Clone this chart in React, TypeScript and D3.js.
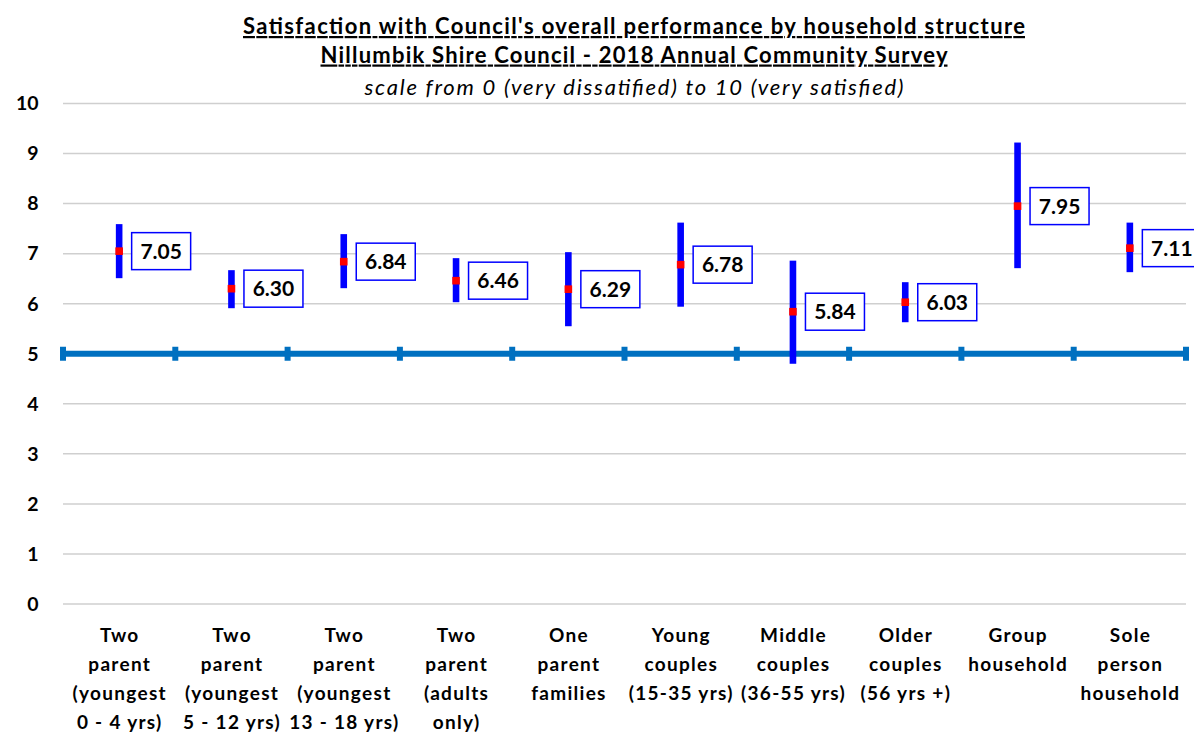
import React from "react";
import * as d3 from "d3";

const categories: string[][] = [
  ["Two", "parent", "(youngest", "0 - 4 yrs)"],
  ["Two", "parent", "(youngest", "5 - 12 yrs)"],
  ["Two", "parent", "(youngest", "13 - 18 yrs)"],
  ["Two", "parent", "(adults", "only)"],
  ["One", "parent", "families"],
  ["Young", "couples", "(15-35 yrs)"],
  ["Middle", "couples", "(36-55 yrs)"],
  ["Older", "couples", "(56 yrs +)"],
  ["Group", "household"],
  ["Sole", "person", "household"],
];
const means = [7.05, 6.3, 6.84, 6.46, 6.29, 6.78, 5.84, 6.03, 7.95, 7.11];
const lower = [6.51, 5.91, 6.31, 6.03, 5.55, 5.94, 4.8, 5.63, 6.71, 6.63];
const upper = [7.59, 6.67, 7.39, 6.91, 7.03, 7.62, 6.86, 6.43, 9.22, 7.62];
const yTicks = [0, 1, 2, 3, 4, 5, 6, 7, 8, 9, 10];
const referenceValue = 5;
const titleLines = [
  "Satisfaction  with Council's overall performance by household structure",
  "Nillumbik Shire Council - 2018 Annual  Community Survey",
];
const subtitle = "scale from 0 (very dissatified) to 10 (very satisfied)";

const W = 1194;
const H = 733;
const FONT = "Lato, 'Open Sans', sans-serif";

export default function App() {
  const x = d3
    .scaleBand<number>()
    .domain(d3.range(categories.length))
    .range([63, 1186])
    .padding(0);
  const y = d3.scaleLinear().domain([0, 10]).range([604, 103.5]);
  const bw = x.bandwidth();
  const cx = (i: number) => (x(i) as number) + bw / 2;
  const boundaries = d3.range(categories.length + 1).map((i) => 63 + i * bw);

  return (
    <div style={{ position: "absolute", left: 0, top: 0 }}>
      <svg width={W} height={H} style={{ display: "block", background: "#fff" }}>
        {/* titles */}
        <text x={634} y={34} textAnchor="middle" fontFamily={FONT} fontWeight="bold" fontSize={22} textDecoration="underline" fill="#000" textLength={782} lengthAdjust="spacing">
          {titleLines[0]}
        </text>
        <text x={634} y={62.5} textAnchor="middle" fontFamily={FONT} fontWeight="bold" fontSize={22} textDecoration="underline" fill="#000" textLength={627} lengthAdjust="spacing">
          {titleLines[1]}
        </text>
        <text x={634} y={95} textAnchor="middle" fontFamily={FONT} fontStyle="italic" fontSize={22} fill="#000" textLength={539} lengthAdjust="spacing">
          {subtitle}
        </text>

        {/* gridlines */}
        {yTicks.map((t) => (
          <line key={"g" + t} x1={63} x2={1186} y1={y(t)} y2={y(t)} stroke="#cfcfcf" strokeWidth={1.5} />
        ))}
        {/* y tick labels */}
        {yTicks.map((t) => (
          <text key={"yt" + t} x={38.5} y={y(t)} dy="0.35em" textAnchor="end" fontFamily={FONT} fontWeight="bold" fontSize={19.5} fill="#000">
            {t}
          </text>
        ))}

        {/* reference line */}
        <line x1={63} x2={1186} y1={y(referenceValue)} y2={y(referenceValue)} stroke="#0070C0" strokeWidth={6} />
        {boundaries.map((bx, i) => (
          <line key={"rt" + i} x1={bx} x2={bx} y1={y(referenceValue) - 7} y2={y(referenceValue) + 7} stroke="#0070C0" strokeWidth={6} />
        ))}

        {/* error bars */}
        {means.map((m, i) => (
          <g key={"e" + i}>
            <rect x={cx(i) - 3.3} width={6.6} y={y(upper[i])} height={y(lower[i]) - y(upper[i])} fill="#0000FF" />
            <rect x={cx(i) - 3.8} width={7.6} y={y(m) - 3.8} height={7.6} fill="#FF0000" />
            <rect x={cx(i) + 12.5} width={59} y={y(m) - 18.5} height={37} fill="#fff" stroke="#0000FF" strokeWidth={1.5} />
            <text x={cx(i) + 42} y={y(m)} dy="0.36em" textAnchor="middle" fontFamily={FONT} fontWeight="bold" fontSize={21} fill="#000">
              {m.toFixed(2)}
            </text>
          </g>
        ))}

        {/* category labels */}
        {categories.map((lines, i) => (
          <text key={"c" + i} textAnchor="middle" fontFamily={FONT} fontWeight="bold" fontSize={19} letterSpacing={1.3} fill="#000">
            {lines.map((ln, j) => (
              <tspan key={j} x={cx(i) + 0.6} y={642 + j * 29}>
                {ln}
              </tspan>
            ))}
          </text>
        ))}
      </svg>
    </div>
  );
}
